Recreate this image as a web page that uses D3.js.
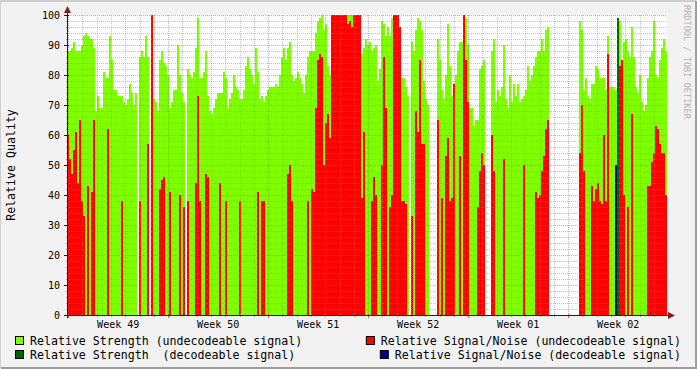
<!DOCTYPE html>
<html>
<head>
<meta charset="utf-8">
<script src="https://cdn.jsdelivr.net/npm/d3@7"></script>
<style>
  body { margin: 0; background: #f2f2f2; }
  svg { display: block; }
  text { font-family: "DejaVu Sans Mono", monospace; }
</style>
</head>
<body>
<script>
// rrd style graph of signal quality, 6 weeks, one value per rrd row (300 rows)

var weekLabels = ['Week 49', 'Week 50', 'Week 51', 'Week 52', 'Week 01', 'Week 02'];
var yTicks = [0, 10, 20, 30, 40, 50, 60, 70, 80, 90, 100];

// relative strength, undecodeable signal
var strengthUndec = [
  88,88,89,91,88,88,88,90,93,94, 93,92,92,89,68,73,69,69,81,79,
  79,93,85,75,75,73,73,73,71,70, 72,77,74,70,74,null,86,88,86,93,
  86,null,76,72,71,68,85,88,84,83, 80,69,71,75,75,90,80,74,71,null,
  82,80,79,81,89,99,79,79,81,88, 73,68,67,69,72,74,74,74,81,79,
  69,72,74,80,76,75,72,72,75,83, 86,82,80,77,89,81,72,73,71,73,
  75,76,76,76,77,76,80,86,89,85, 89,91,80,78,79,81,79,77,74,80,
  86,88,88,88,94,98,99,100,95,97, 83,80,100,100,100,100,100,100,100,100,
  100,100,100,100,100,100,100,87,89,92, 90,91,88,89,90,78,82,98,97,93,
  96,93,99,100,100,100,96,79,79,76, 73,null,91,88,95,99,98,95,78,72,
  70,null,null,null,null,92,85,75,72,80, 97,83,73,77,80,88,91,91,79,99,
  90,69,69,63,65,65,82,83,85,null, null,null,88,92,71,75,73,76,90,72,
  69,80,71,77,73,77,71,72,73,75, 83,78,80,83,86,88,88,92,88,95,
  96,null,null,null,null,null,null,null,null,null, null,null,null,null,null,null,98,95,75,79,
  73,72,77,77,83,82,79,79,79,75, 93,76,76,76,75,98,98,85,91,92,
  88,86,96,86,76,74,80,71,68,70, 79,86,88,98,80,79,85,89,92,88
];

// relative signal/noise, undecodeable signal
var snrUndec = [
  60,52,47,55,61,44,65,38,33,0, 43,0,41,65,0,0,0,0,0,0,
  62,0,0,0,0,0,0,38,0,0, 0,0,0,0,0,null,38,0,0,0,
  57,null,100,0,0,0,42,45,46,0, 0,41,0,0,0,0,40,0,36,null,
  38,0,0,0,44,73,38,0,0,47, 46,0,0,0,0,0,44,0,0,38,
  0,0,0,0,0,0,38,0,0,0, 0,0,0,0,0,41,0,38,38,0,
  0,0,0,0,0,0,0,0,0,0, 47,50,38,0,0,0,0,0,0,0,
  38,0,42,41,69,85,87,86,50,64, 67,59,100,100,100,100,100,100,100,100,
  97,98,96,100,100,100,100,39,61,0, 0,0,38,46,40,0,0,50,86,69,
  0,36,40,100,100,100,96,38,38,37, 0,null,33,0,68,61,85,57,57,0,
  0,null,null,null,null,65,0,39,0,53, 59,38,39,77,0,0,53,0,100,85,
  71,0,0,0,0,36,48,54,50,null, null,null,60,48,0,0,0,0,52,0,
  0,0,0,0,0,0,0,0,50,0, 0,0,0,0,41,39,40,48,53,62,
  65,null,null,null,null,null,null,null,null,null, null,null,null,null,null,null,54,70,48,0,
  0,0,43,38,42,44,38,37,60,38, 87,0,0,0,0,0,83,85,40,0,
  36,0,67,0,0,0,0,0,0,0, 43,43,51,54,63,62,57,54,54,40
];

// decodeable signal only shows up once: [row, value]
var strengthDec = [[275, 99]];
var snrDec = [[274, 50]];

var W = 697, H = 369;
var plot = { left: 67, top: 15, right: 667, bottom: 315 };

var colors = {
  strengthUndec: '#7fff00',
  snrUndec: '#ff0000',
  strengthDec: '#006400',
  snrDec: '#00008b'
};

// graph starts a bit before monday of week 49, 42 days long
var start = new Date(2008, 10, 30, 22, 0);
var end = d3.timeDay.offset(start, 42);
var step = (end - start) / strengthUndec.length;
function rowTime(i) { return new Date(start.getTime() + i * step); }

var x = d3.scaleTime().domain([start, end]).range([plot.left, plot.right]);
var y = d3.scaleLinear().domain([0, 100]).range([plot.bottom, plot.top]);

var svg = d3.select('body').append('svg')
    .attr('width', W).attr('height', H);

// background + 3d border
svg.append('rect').attr('width', W).attr('height', H).attr('fill', '#f2f2f2');
svg.append('path').attr('d', `M0,${H-1} V1 H${W-1}`).attr('fill', 'none')
    .attr('stroke', '#cfcfcf').attr('stroke-width', 2);
svg.append('path').attr('d', `M1,${H-1} H${W-1} V1`).attr('fill', 'none')
    .attr('stroke', '#9e9e9e').attr('stroke-width', 2);

svg.append('rect')
    .attr('x', plot.left).attr('y', plot.top)
    .attr('width', plot.right - plot.left).attr('height', plot.bottom - plot.top)
    .attr('fill', '#ffffff');

function toRows(values) {
  return values.map(function(v, i) { return [i, v]; });
}

function drawArea(rows, color) {
  svg.append('g').attr('shape-rendering', 'crispEdges')
    .selectAll('rect')
    .data(rows.filter(function(d) { return d[1] != null && d[1] > 0; }))
    .join('rect')
    .attr('x', function(d) { return x(rowTime(d[0])); })
    .attr('width', function(d) { return x(rowTime(d[0] + 1)) - x(rowTime(d[0])); })
    .attr('y', function(d) { return y(d[1]); })
    .attr('height', function(d) { return y(0) - y(d[1]); })
    .attr('fill', color);
}

// same order as rrd draws them
drawArea(toRows(strengthUndec), colors.strengthUndec);
drawArea(toRows(snrUndec), colors.snrUndec);
drawArea(strengthDec, colors.strengthDec);
drawArea(snrDec, colors.snrDec);

// grid on top, dotted
var minorCol = 'rgba(143,143,143,0.55)';
var majorCol = 'rgba(222,79,79,0.55)';
var grid = svg.append('g').attr('fill', 'none').attr('stroke-dasharray', '1,1');

d3.range(0, 101, 2).forEach(function(v) {
  var yy = Math.round(y(v)) + 0.5;
  if (v === 0) return;
  grid.append('line')
    .attr('x1', plot.left).attr('x2', plot.right)
    .attr('y1', yy).attr('y2', yy)
    .attr('stroke', v % 10 === 0 ? majorCol : minorCol);
});

var days = d3.timeDay.range(start, end);
var weeks = d3.timeMonday.range(start, end);
var weekSet = weeks.map(function(d) { return +d; });
days.forEach(function(d) {
  var xx = Math.round(x(d)) + 0.5;
  grid.append('line')
    .attr('x1', xx).attr('x2', xx)
    .attr('y1', plot.top).attr('y2', plot.bottom)
    .attr('stroke', weekSet.indexOf(+d) >= 0 ? majorCol : minorCol);
});

// tick marks
var ticks = svg.append('g');
d3.range(0, 101, 2).forEach(function(v) {
  var yy = Math.round(y(v)) + 0.5;
  var major = v % 10 === 0;
  ticks.append('line')
    .attr('x1', major ? plot.left - 3 : plot.left - 1).attr('x2', plot.left + (major ? 2 : 1))
    .attr('y1', yy).attr('y2', yy)
    .attr('stroke', major ? '#1f1f1f' : 'rgba(222,79,79,0.6)');
});
days.forEach(function(d) {
  var xx = Math.round(x(d)) + 0.5;
  var major = weekSet.indexOf(+d) >= 0;
  ticks.append('line')
    .attr('x1', xx).attr('x2', xx)
    .attr('y1', plot.bottom - 1).attr('y2', plot.bottom + (major ? 3 : 2))
    .attr('stroke', major ? 'rgba(222,79,79,0.9)' : 'rgba(143,143,143,0.8)');
});

// axes + arrows
svg.append('line')
    .attr('x1', plot.left - 3).attr('x2', plot.right + 2)
    .attr('y1', plot.bottom + 0.5).attr('y2', plot.bottom + 0.5)
    .attr('stroke', '#1f1f1f');
svg.append('line')
    .attr('x1', plot.left + 0.5).attr('x2', plot.left + 0.5)
    .attr('y1', plot.bottom + 3).attr('y2', plot.top - 3)
    .attr('stroke', '#1f1f1f');
svg.append('path')
    .attr('d', `M${plot.right + 1},${plot.bottom - 3} L${plot.right + 8},${plot.bottom + 0.5} L${plot.right + 1},${plot.bottom + 4} Z`)
    .attr('fill', '#801f1f');
svg.append('path')
    .attr('d', `M${plot.left - 3},${plot.top - 2} L${plot.left + 0.5},${plot.top - 9} L${plot.left + 4},${plot.top - 2} Z`)
    .attr('fill', '#801f1f');

// y labels
svg.append('g').selectAll('text')
  .data(yTicks).join('text')
    .attr('x', plot.left - 7)
    .attr('y', function(d) { return y(d); })
    .attr('dy', '0.36em')
    .attr('text-anchor', 'end')
    .attr('font-size', '10px')
    .attr('fill', '#000')
    .text(function(d) { return d; });

// week labels in the middle of each week
svg.append('g').selectAll('text')
  .data(weeks).join('text')
    .attr('x', function(d, i) { return x(d3.timeHour.offset(d, 84)); })
    .attr('y', plot.bottom + 13)
    .attr('text-anchor', 'middle')
    .attr('font-size', '10px')
    .attr('fill', '#000')
    .text(function(d, i) { return weekLabels[i]; });

svg.append('text')
    .attr('transform', `translate(15,${(plot.top + plot.bottom) / 2}) rotate(-90)`)
    .attr('text-anchor', 'middle')
    .attr('font-size', '11.6px')
    .attr('fill', '#000')
    .text('Relative Quality');

svg.append('text')
    .attr('transform', 'translate(684,5) rotate(90)')
    .attr('font-size', '8.6px')
    .attr('fill', '#b4b4b4')
    .text('RRDTOOL / TOBI OETIKER');

// legend, left column flush left, right column flush right
var legendItems = [
  { label: 'Relative Strength (undecodeable signal)', color: colors.strengthUndec, col: 0, row: 0 },
  { label: 'Relative Signal/Noise (undecodeable signal)', color: colors.snrUndec, col: 1, row: 0 },
  { label: 'Relative Strength  (decodeable signal)', color: colors.strengthDec, col: 0, row: 1 },
  { label: 'Relative Signal/Noise (decodeable signal)', color: colors.snrDec, col: 1, row: 1 }
];

legendItems.forEach(function(item) {
  var base = 345 + item.row * 14;
  var t = svg.append('text')
      .attr('y', base)
      .attr('font-size', '11.6px')
      .attr('fill', '#000')
      .attr('xml:space', 'preserve')
      .style('white-space', 'pre')
      .text(item.label);
  var tx = item.col === 0 ? 30 : 681 - t.node().getComputedTextLength();
  t.attr('x', tx);
  svg.append('rect')
      .attr('x', tx - 14.5).attr('y', base - 8.5)
      .attr('width', 8).attr('height', 8)
      .attr('fill', item.color)
      .attr('stroke', '#000');
});
</script>
</body>
</html>
